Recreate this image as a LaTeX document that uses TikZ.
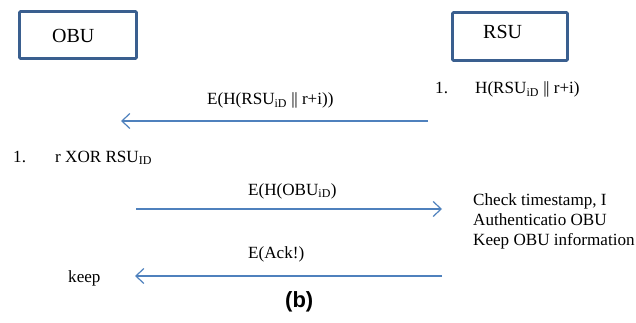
\documentclass[tikz,border=0pt]{standalone}
\usepackage{fontspec}
\setmainfont{Liberation Serif}
\newfontfamily\labelsans{Liberation Sans}
\usetikzlibrary{arrows.meta}

\definecolor{msgblue}{HTML}{4F81BD}
\definecolor{boxblue}{HTML}{3A5F8F}

\newcommand{\dbar}{|\kern-0.5pt|}
\newcommand{\sub}[1]{\textsubscript{#1}}

\tikzset{
  entity/.style={draw=boxblue, line width=2.6pt, rounded corners=1pt},
  msg/.style={draw=msgblue, line width=1.2pt, -{Straight Barb[length=8pt,width=15pt,line width=1.2pt]}},
  txt/.style={anchor=base west, inner sep=0pt, font=\fontsize{17.1}{20}\selectfont},
  big/.style={anchor=base west, inner sep=0pt, font=\fontsize{20}{24}\selectfont},
}

\begin{document}
\begin{tikzpicture}[x=1pt, y=-1pt]
\useasboundingbox (0,0) rectangle (636,323);

% the two parties
\draw[entity] (19.5,11.5) rectangle (136.5,58.5);
\node[big] (obu) at (52,43) {OBU};
\draw[entity] (452.5,12.5) rectangle (567.5,60.5);
\node[big] (rsu) at (483,39) {RSU};

% end points of the three messages
\coordinate (m1s) at (428,121);
\coordinate (m1e) at (121,121);
\coordinate (m2s) at (136,209);
\coordinate (m2e) at (442,209);
\coordinate (m3s) at (442,276);
\coordinate (m3e) at (135,276);

% RSU step
\node[txt] (rnum) at (435,94) {1.};
\node[txt] (rstep) at (475,94) {H(RSU\sub{iD} \dbar\ r+i)};

% message 1
\node[txt] (l1) at (207,105) {E(H(RSU\sub{iD} \dbar\ r+i))};
\draw[msg] (m1s) -- (m1e);

% OBU step
\node[txt] (onum) at (13,162) {1.};
\node[txt] (ostep) at (55,162) {r XOR RSU\sub{ID}};

% message 2
\node[txt] (l2) at (248,195) {E(H(OBU\sub{iD})};
\draw[msg] (m2s) -- (m2e);

% RSU checks
\node[txt] (c1) at (473,205) {Check timestamp, I};
\node[txt] (c2) at (473,225) {Authenticatio OBU};
\node[txt] (c3) at (473,245) {Keep OBU information};

% message 3
\node[txt] (l3) at (248,258) {E(Ack!)};
\draw[msg] (m3s) -- (m3e);
\node[txt] (keep) at (68,282) {keep};

% caption
\node[anchor=base west, inner sep=0pt, font=\labelsans\bfseries\fontsize{22}{26}\selectfont] (cap) at (285,307) {(b)};
\end{tikzpicture}
\end{document}
